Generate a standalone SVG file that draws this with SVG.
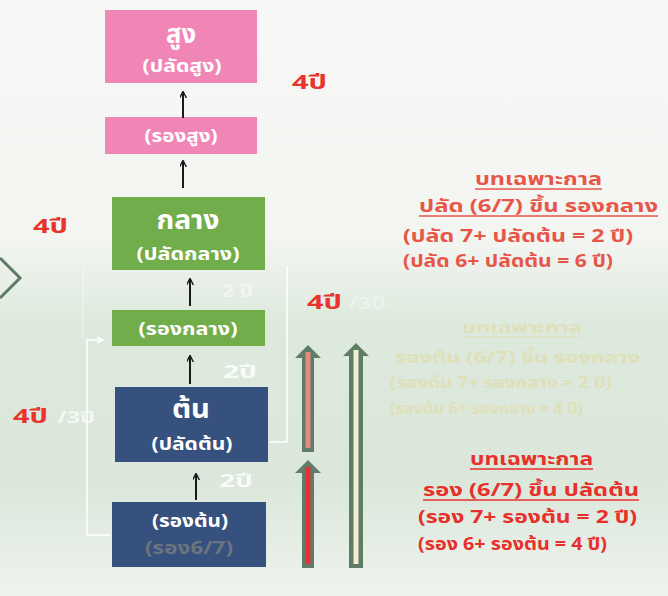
<svg xmlns="http://www.w3.org/2000/svg" width="668" height="596" viewBox="0 0 668 596">
<defs>
<linearGradient id="bg" x1="0" y1="0" x2="0" y2="1">
<stop offset="0" stop-color="#f8f8f6"/>
<stop offset="0.40" stop-color="#f3f5f1"/>
<stop offset="0.55" stop-color="#dce9dc"/>
<stop offset="0.80" stop-color="#dae7da"/>
<stop offset="1" stop-color="#eef3ee"/>
</linearGradient>
<marker id="ah" viewBox="0 0 10 10" refX="9" refY="5" markerWidth="7" markerHeight="7" orient="auto" markerUnits="userSpaceOnUse">
<path d="M0,0 L10,5 L0,10" fill="none" stroke="#1a1a1a" stroke-width="2"/>
</marker>
<style>
text{font-family:"Noto Sans Thai","Noto Sans","Tahoma","DejaVu Sans",sans-serif;font-weight:bold}
.big{font-size:26px;fill:#ffffff;text-anchor:middle}
.sub{font-size:17px;fill:#ffffff;text-anchor:middle}
.yr{font-size:20px;fill:#e8342c}
.wh{font-size:18px;fill:#ffffff;opacity:0.85}
.note{font-size:17px;fill:#e8564a}
.note2{font-size:17px;fill:#e8302a}
.ghost{font-size:16px;fill:#e4d99c;opacity:0.55}
.conn{stroke:#1a1a1a;stroke-width:2;fill:none;marker-end:url(#ah)}
.brk{stroke:#ffffff;stroke-width:1.5;fill:none}
.ul{stroke-width:1.5}
</style>
</defs>
<rect x="0" y="0" width="668" height="596" fill="url(#bg)"/>
<path d="M0,258 L20,278 L0,298" fill="none" stroke="#5b7b62" stroke-width="3"/>

<g id="node-sung">
<rect x="105" y="10" width="152" height="73" fill="#f086b6"/>
<text class="big" x="181" y="43" textLength="30" lengthAdjust="spacingAndGlyphs">สูง</text>
<text class="sub" x="182" y="72" textLength="79" lengthAdjust="spacingAndGlyphs">(ปลัดสูง)</text>
</g>
<g id="node-rongsung">
<rect x="105" y="117" width="152" height="37" fill="#f086b6"/>
<text class="sub" x="181" y="142" textLength="73" lengthAdjust="spacingAndGlyphs">(รองสูง)</text>
</g>
<g id="node-klang">
<rect x="112" y="197" width="153" height="73" fill="#71ad4b"/>
<text class="big" x="188" y="229" textLength="63" lengthAdjust="spacingAndGlyphs">กลาง</text>
<text class="sub" x="188" y="260" textLength="103" lengthAdjust="spacingAndGlyphs">(ปลัดกลาง)</text>
</g>
<g id="node-rongklang">
<rect x="112" y="310" width="153" height="36" fill="#71ad4b"/>
<text class="sub" x="188" y="335" textLength="99" lengthAdjust="spacingAndGlyphs">(รองกลาง)</text>
</g>
<g id="node-ton">
<rect x="115" y="387" width="153" height="75" fill="#36517e"/>
<text class="big" x="191" y="418" textLength="38" lengthAdjust="spacingAndGlyphs">ต้น</text>
<text class="sub" x="192" y="450" textLength="81" lengthAdjust="spacingAndGlyphs">(ปลัดต้น)</text>
</g>
<g id="node-rongton">
<rect x="112" y="502" width="154" height="65" fill="#36517e"/>
<text class="sub" x="190" y="527" textLength="76" lengthAdjust="spacingAndGlyphs">(รองต้น)</text>
<text class="sub" x="189" y="554" textLength="88" lengthAdjust="spacingAndGlyphs" style="fill:#6d7480">(รอง6/7)</text>
</g>

<g id="connectors">
<line class="conn" x1="183" y1="118" x2="183" y2="92"/>
<line class="conn" x1="183" y1="188" x2="183" y2="161"/>
<line class="conn" x1="190" y1="306" x2="190" y2="279"/>
<line class="conn" x1="190" y1="384" x2="190" y2="356"/>
<line class="conn" x1="196" y1="500" x2="196" y2="474"/>
<path class="brk" d="M110,535 L87,535 L87,340 L102,340"/>
<path d="M97,337 L103,340 L97,343" fill="none" stroke="#ffffff" stroke-width="1.5"/>
<path d="M83,340 L83,265" fill="none" stroke="#ffffff" stroke-width="1" opacity="0.5"/>
<path class="brk" d="M270,442 L287,442 L287,266"/>
<g id="thick-arrows">
<path d="M302,452 L302,358 L295,358 L308,345 L321,358 L314,358 L314,452 Z" fill="#5f7d66"/>
<line x1="308" y1="352" x2="308" y2="448" stroke="#e88a80" stroke-width="5"/>
<path d="M302,568 L302,473 L295,473 L308,460 L321,473 L314,473 L314,568 Z" fill="#5f7d66"/>
<line x1="308" y1="467" x2="308" y2="564" stroke="#e8303a" stroke-width="5"/>
<path d="M349,568 L349,356 L343,356 L356,343 L369,356 L363,356 L363,568 Z" fill="#5f7d66"/>
<line x1="356" y1="350" x2="356" y2="564" stroke="#f2eed2" stroke-width="5"/>
</g>
</g>

<text class="yr" x="292" y="89" textLength="35" lengthAdjust="spacingAndGlyphs">4ปี</text>
<text class="yr" x="33" y="233" textLength="35" lengthAdjust="spacingAndGlyphs">4ปี</text>
<text class="yr" x="307" y="309" textLength="35" lengthAdjust="spacingAndGlyphs">4ปี</text>
<text class="yr" x="13" y="423" textLength="35" lengthAdjust="spacingAndGlyphs">4ปี</text>
<text class="wh" x="57" y="423" textLength="38" lengthAdjust="spacingAndGlyphs" style="font-size:16px;opacity:0.7">/3ปี</text>
<text class="wh" x="348" y="309" textLength="38" lengthAdjust="spacingAndGlyphs" style="font-size:16px;opacity:0.35">/3ปี</text>
<text class="wh" x="222" y="297" textLength="31" lengthAdjust="spacingAndGlyphs" style="opacity:0.5">2 ปี</text>
<text class="wh" x="223" y="378" textLength="34" lengthAdjust="spacingAndGlyphs">2ปี</text>
<text class="wh" x="219" y="487" textLength="34" lengthAdjust="spacingAndGlyphs">2ปี</text>

<g id="note-top">
<text class="note" x="475" y="185" textLength="127" lengthAdjust="spacingAndGlyphs">บทเฉพาะกาล</text>
<line class="ul" x1="475" y1="189" x2="602" y2="189" stroke="#e8564a"/>
<text class="note" x="419" y="212" textLength="239" lengthAdjust="spacingAndGlyphs">ปลัด (6/7)  ขึ้น  รองกลาง</text>
<line class="ul" x1="419" y1="216" x2="658" y2="216" stroke="#e8564a"/>
<text class="note" x="403" y="242" textLength="230" lengthAdjust="spacingAndGlyphs">(ปลัด 7+ ปลัดต้น  = 2 ปี)</text>
<text class="note" x="403" y="267" textLength="210" lengthAdjust="spacingAndGlyphs">(ปลัด 6+ ปลัดต้น  = 6 ปี)</text>
</g>
<g id="note-ghost">
<text class="ghost" x="462" y="333" textLength="120" lengthAdjust="spacingAndGlyphs">บทเฉพาะกาล</text>
<line x1="462" y1="337" x2="582" y2="337" stroke="#e4d99c" stroke-width="1.2" opacity="0.55"/>
<text class="ghost" x="395" y="363" textLength="245" lengthAdjust="spacingAndGlyphs">รองต้น (6/7)  ขึ้น  รองกลาง</text>
<text class="ghost" x="390" y="388" textLength="222" lengthAdjust="spacingAndGlyphs">(รองต้น 7+ รองกลาง  = 2 ปี)</text>
<text class="ghost" x="390" y="414" textLength="193" lengthAdjust="spacingAndGlyphs">(รองต้น 6+ รองกลาง  = 4 ปี)</text>
</g>
<g id="note-bottom">
<text class="note2" x="470" y="465" textLength="123" lengthAdjust="spacingAndGlyphs">บทเฉพาะกาล</text>
<line class="ul" x1="470" y1="469" x2="593" y2="469" stroke="#e8302a"/>
<text class="note2" x="423" y="496" textLength="216" lengthAdjust="spacingAndGlyphs">รอง (6/7)  ขึ้น ปลัดต้น</text>
<line class="ul" x1="423" y1="500" x2="639" y2="500" stroke="#e8302a"/>
<text class="note2" x="418" y="523" textLength="219" lengthAdjust="spacingAndGlyphs">(รอง 7+ รองต้น  = 2 ปี)</text>
<text class="note2" x="418" y="550" textLength="189" lengthAdjust="spacingAndGlyphs">(รอง 6+ รองต้น  = 4 ปี)</text>
</g>
</svg>
